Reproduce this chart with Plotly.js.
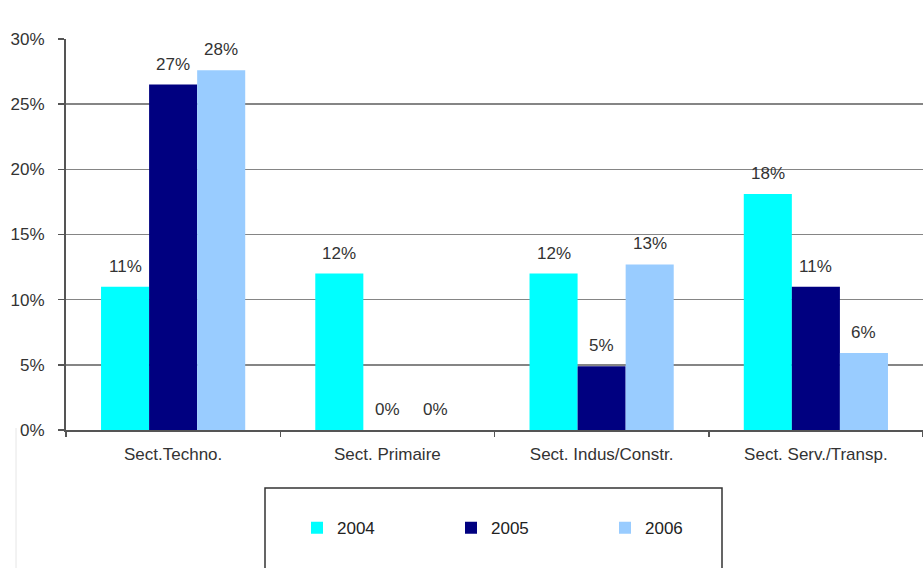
<!DOCTYPE html>
<html>
<head>
<meta charset="utf-8">
<script src="https://cdn.plot.ly/plotly-3.0.1.min.js"></script>
<style>html,body{margin:0;padding:0;background:#fff;}#chart{width:923px;height:568px;}</style>
</head>
<body>
<div id="chart"></div>
<script>
const categories = ["Sect.Techno.", "Sect. Primaire", "Sect. Indus/Constr.", "Sect. Serv./Transp."];
const years = ["2004", "2005", "2006"];
const values2004 = [0.110, 0.120, 0.120, 0.181];
const values2005 = [0.265, 0.000, 0.049, 0.110];
const values2006 = [0.276, 0.000, 0.127, 0.059];
const yTicks = [0, 0.05, 0.10, 0.15, 0.20, 0.25, 0.30];

const seriesValues = [values2004, values2005, values2006];
const colors = ["#00FFFF", "#000080", "#99CCFF"];
const FONT = "Arial, 'Liberation Sans', sans-serif";

const traces = seriesValues.map((vals, i) => ({
  type: "bar",
  name: years[i],
  x: categories,
  y: vals,
  marker: {color: colors[i], line: {width: 0}},
  hoverinfo: "none"
}));

const shifts = [-48, 0, 48];
const annotations = [];
seriesValues.forEach((vals, i) => {
  vals.forEach((v, j) => {
    annotations.push({
      x: categories[j], y: v, xref: "x", yref: "y",
      text: Math.round(v * 100) + "%",
      showarrow: false, xshift: shifts[i], yshift: 9,
      yanchor: "bottom",
      font: {family: FONT, size: 17, color: "#333333"}
    });
  });
});

const layout = {
  width: 923, height: 568,
  margin: {l: 66, r: 0, t: 39, b: 138},
  paper_bgcolor: "#ffffff", plot_bgcolor: "#ffffff",
  barmode: "group", bargap: 0.327, bargroupgap: 0,
  showlegend: true,
  font: {family: FONT, size: 17, color: "#333333"},
  xaxis: {
    type: "category",
    range: [-0.5, 3.5],
    showline: true, linecolor: "#555555", linewidth: 2,
    ticks: "outside", tickson: "boundaries", ticklen: 5, tickcolor: "#555555", tickwidth: 1.5,
    showgrid: false, zeroline: false,
    ticklabelstandoff: 8,
    tickfont: {family: FONT, size: 17, color: "#333333"}
  },
  yaxis: {
    range: [0, 0.30],
    tickvals: yTicks,
    tickformat: ".0%",
    showline: true, linecolor: "#555555", linewidth: 2,
    ticks: "outside", ticklen: 6, tickcolor: "#555555", tickwidth: 1.5,
    showgrid: true, gridcolor: "#858585", gridwidth: 1.6,
    zeroline: false,
    ticklabelstandoff: 10,
    tickfont: {family: FONT, size: 17, color: "#333333"}
  },
  legend: {
    orientation: "h",
    x: (297 - 66) / 857, xanchor: "left", xref: "paper",
    y: -0.251, yanchor: "middle",
    entrywidth: 109, entrywidthmode: "pixels",
    bgcolor: "rgba(0,0,0,0)", borderwidth: 0,
    font: {family: FONT, size: 17, color: "#222222"},
    itemclick: false
  },
  shapes: [{
    type: "rect", xref: "paper", yref: "paper",
    x0: (265 - 66) / 857, x1: (722 - 66) / 857,
    y0: -(575 - 430) / 391, y1: -(488 - 430) / 391,
    line: {color: "#333333", width: 1.5}, fillcolor: "rgba(0,0,0,0)"
  }, {
    type: "line", xref: "paper", yref: "paper",
    x0: (16 - 66) / 857, x1: (16 - 66) / 857,
    y0: -(570 - 430) / 391, y1: -(428 - 430) / 391,
    line: {color: "#e6e6e6", width: 1}
  }],
  annotations: annotations
};

Plotly.newPlot("chart", traces, layout, {displayModeBar: false, staticPlot: true});
</script>
</body>
</html>
